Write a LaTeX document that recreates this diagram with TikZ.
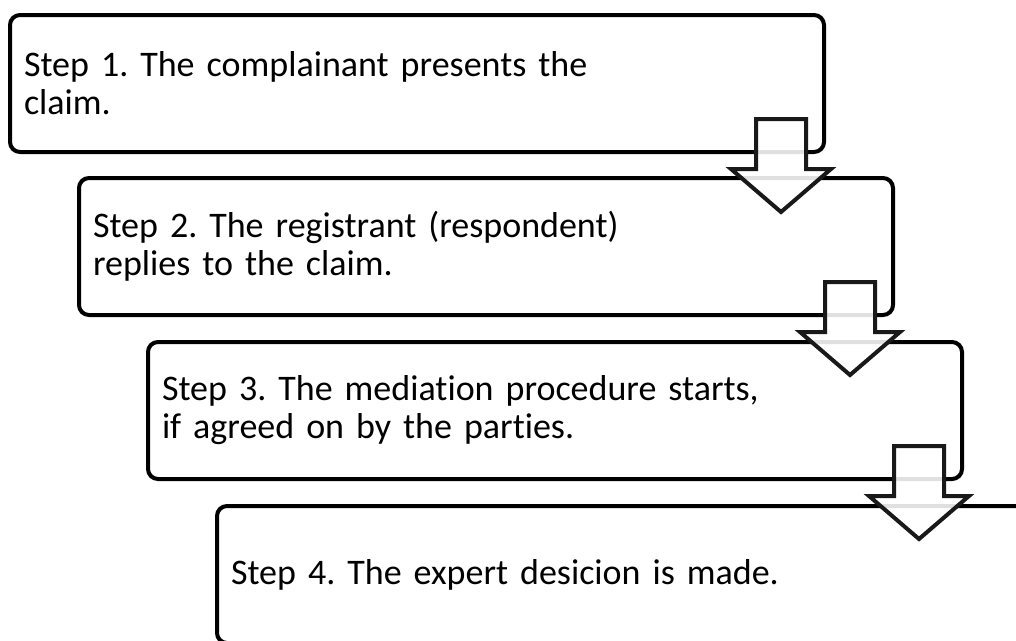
\documentclass[tikz,border=0pt]{standalone}
\usepackage{fontspec}
\setmainfont{Carlito}[Ligatures=NoCommon]
\frenchspacing
\tikzset{font={\fontsize{27pt}{28.5pt}\selectfont}}
\usetikzlibrary{
	calc,
	positioning
	}
\tikzstyle{boite-std}=[draw=black,fill=white,line width=3pt,rounded corners=7.5pt,minimum width=610.5pt,minimum height=102.75pt,inner xsep=10.5pt,text width=589.5pt,align=left,anchor=north west]
\tikzstyle{fleche-std}=[draw=black!90,line width=3pt,fill=white,fill opacity=0.88,miter limit=10]

\begin{document}
\begin{tikzpicture}[x=0.75pt,y=-0.75pt]
            \useasboundingbox (0,0) rectangle (1016,640);
            \clip (0,0) rectangle (1016,640);
            %
            \node[boite-std] (e1) at (8,13) {Step 1. The complainant presents the\\claim.};
            \node[boite-std] (e2) at (77,176) {Step 2. The registrant (respondent)\\replies to the claim.};
            \node[boite-std] (e3) at (146,340) {Step 3. The mediation procedure starts,\\if agreed on by the parties.};
            \node[boite-std] (e4) at (215,504) {Step 4. The expert desicion is made.};
            %
            \coordinate (f1) at ($(e1.south east)+(-45,0)$);
            \coordinate (f2) at ($(e2.south east)+(-45,0)$);
            \coordinate (f3) at ($(e3.south east)+(-45,0)$);

            \draw[fleche-std] (f1) ++(-25,-35) -- ++(50,0) -- ++(0,50) -- ++(25,0) -- ++(-50,43) -- ++(-50,-43) -- ++(25,0) -- cycle;
            \draw[fleche-std] (f2) ++(-25,-35) -- ++(50,0) -- ++(0,50) -- ++(25,0) -- ++(-50,43) -- ++(-50,-43) -- ++(25,0) -- cycle;
            \draw[fleche-std] (f3) ++(-25,-35) -- ++(50,0) -- ++(0,50) -- ++(25,0) -- ++(-50,43) -- ++(-50,-43) -- ++(25,0) -- cycle;
        \end{tikzpicture}
\end{document}
